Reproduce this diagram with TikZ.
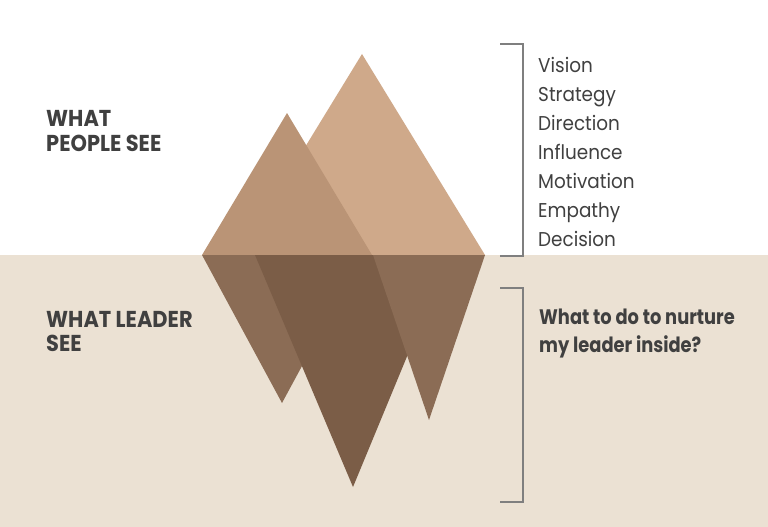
\documentclass[tikz,border=0pt]{standalone}
\usepackage{fontspec}
\setmainfont{Poppins}
\newfontfamily\listfont[FakeStretch=0.92]{Poppins}
\newfontfamily\headfont[FakeStretch=0.91]{Poppins}
\newfontfamily\askfont[FakeStretch=0.85]{Poppins}
\definecolor{sea}{HTML}{EBE1D3}
\definecolor{topbig}{HTML}{CFA98A}
\definecolor{topleft}{HTML}{BA9476}
\definecolor{lowside}{HTML}{8B6C55}
\definecolor{lowmid}{HTML}{7B5D47}
\definecolor{bracketgray}{HTML}{7F7F7F}
\definecolor{ink}{HTML}{404040}
\tikzset{
  bracketline/.style={draw=bracketgray, line width=1.2pt},
  listtext/.style={anchor=base west, inner sep=0pt, text=ink, font=\listfont\fontsize{20}{24}\selectfont},
  headtext/.style={anchor=base west, inner sep=0pt, text=ink, font=\headfont\bfseries\fontsize{23}{26}\selectfont},
  asktext/.style={anchor=base west, inner sep=0pt, text=ink, font=\askfont\bfseries\fontsize{21}{24}\selectfont}
}
\begin{document}
\begin{tikzpicture}[x=1pt,y=-1pt]
\useasboundingbox (0,0) rectangle (768,527);
\fill[white] (0,0) rectangle (768,255);
\fill[sea] (0,255) rectangle (768,527);
% above water
\fill[topbig] (362,54) -- (239,255) -- (485,255) -- cycle;
\fill[topleft] (287,113) -- (202,255) -- (372,255) -- cycle;
% below water
\fill[lowside] (202,255) -- (362,255) -- (282,403) -- cycle;
\fill[lowmid] (255,255) -- (449,255) -- (353,487) -- cycle;
\fill[lowside] (373,255) -- (485,255) -- (429,420) -- cycle;
% brackets
\draw[bracketline] (500,44) -- (523,44) -- (523,256) -- (500,256);
\draw[bracketline] (500,288) -- (523,288) -- (523,502) -- (500,502);
% headings
\node[headtext] (h1a) at (46,126) {WHAT};
\node[headtext] (h1b) at (46,151.7) {PEOPLE SEE};
\node[headtext] (h2a) at (46,327.3) {WHAT LEADER};
\node[headtext] (h2b) at (46,351.7) {SEE};
% list
\node[listtext] (l1) at (538,72.5) {Vision};
\node[listtext] (l2) at (538,101.5) {Strategy};
\node[listtext] (l3) at (538,130.5) {Direction};
\node[listtext] (l4) at (538,159.5) {Influence};
\node[listtext] (l5) at (538,188.5) {Motivation};
\node[listtext] (l6) at (538,217.5) {Empathy};
\node[listtext] (l7) at (538,246.5) {Decision};
% question
\node[asktext] (q1) at (539,324) {What to do to nurture};
\node[asktext] (q2) at (539,352.7) {my leader inside?};
\end{tikzpicture}
\end{document}
